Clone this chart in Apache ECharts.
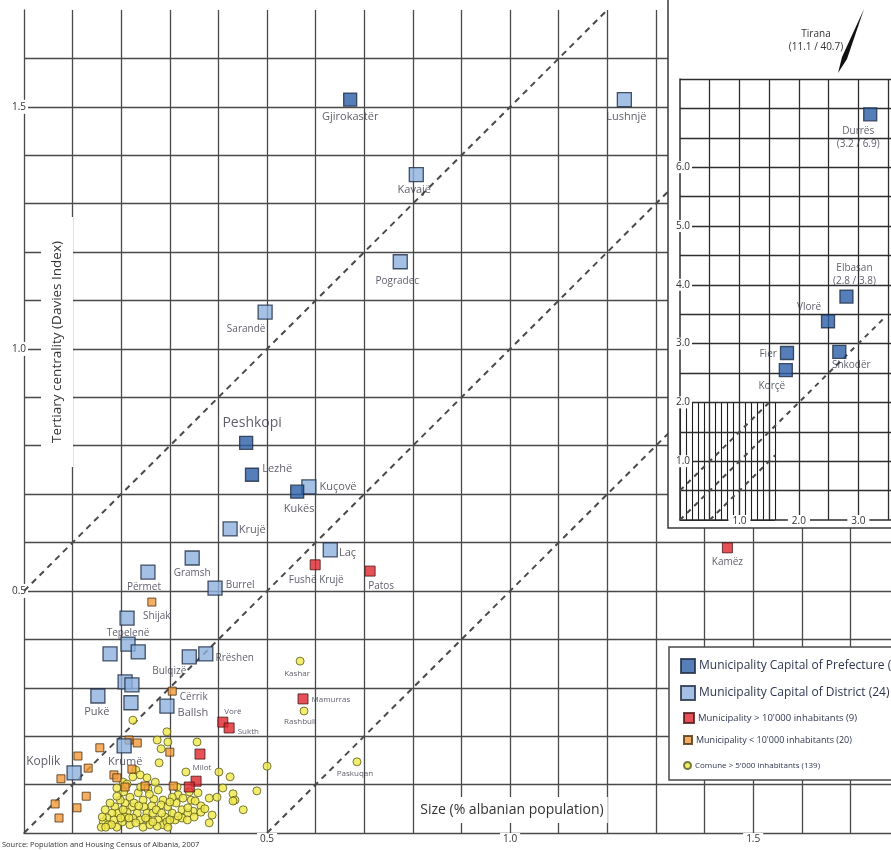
<!DOCTYPE html>
<html>
<head>
<meta charset="utf-8">
<script src="https://cdn.jsdelivr.net/npm/echarts@6/dist/echarts.min.js"></script>
<style>
html,body{margin:0;padding:0;background:#fff}
#chart{width:891px;height:850px}
</style>
</head>
<body>
<div id="chart"></div>
<script>
var FONT = '"Open Sans", "Noto Sans", sans-serif';

// capitals of prefecture shown in the main plot
var prefNames = ['Gjirokastër', 'Peshkopi', 'Lezhë', 'Kukës'];
var prefX = [0.671, 0.457, 0.469, 0.562];
var prefY = [1.515, 0.806, 0.740, 0.705];

// capitals of prefecture shown in the zoomed-out inset
var insetNames = ['Durrës', 'Elbasan', 'Vlorë', 'Fier', 'Shkodër', 'Korçë'];
var insetX = [3.2, 2.8, 2.49, 1.80, 2.68, 1.78];
var insetY = [6.9, 3.8, 3.38, 2.84, 2.86, 2.55];

// capitals of district (24)
var distNames = ['Lushnjë', 'Kavajë', 'Pogradec', 'Sarandë', 'Kuçovë', 'Krujë', 'Laç', 'Përmet',
    'Gramsh', 'Burrel', 'Tepelenë', '', '', '', 'Bulqizë', 'Rrëshen', '', '', 'Pukë', '', 'Ballsh',
    'Krumë', 'Koplik'];
var distX = [1.235, 0.807, 0.774, 0.496, 0.586, 0.424, 0.630, 0.255, 0.346, 0.393, 0.212, 0.177,
    0.214, 0.235, 0.340, 0.374, 0.208, 0.222, 0.152, 0.220, 0.294, 0.206, 0.103];
var distY = [1.515, 1.360, 1.180, 1.076, 0.715, 0.628, 0.585, 0.539, 0.568, 0.506, 0.444, 0.370,
    0.390, 0.374, 0.364, 0.370, 0.312, 0.306, 0.283, 0.269, 0.262, 0.180, 0.124];

// municipality > 10'000
var bigNames = ['Fushë Krujë', 'Patos', 'Kamëz', 'Mamurras', 'Vorë', 'Sukth', 'Milot', '', ''];
var bigX = [0.599, 0.712, 1.447, 0.574, 0.409, 0.422, 0.362, 0.354, 0.340];
var bigY = [0.554, 0.541, 0.589, 0.277, 0.229, 0.217, 0.163, 0.107, 0.095];

// municipality < 10'000
var smallNames = ['Shijak', 'Cërrik'];
var smallX = [0.263, 0.305, 0.111, 0.156, 0.132, 0.076, 0.128, 0.064, 0.109, 0.072, 0.216, 0.233,
    0.222, 0.185, 0.191, 0.208, 0.249, 0.300, 0.307];
var smallY = [0.477, 0.293, 0.159, 0.176, 0.134, 0.112, 0.076, 0.060, 0.052, 0.031, 0.192, 0.186,
    0.132, 0.120, 0.114, 0.095, 0.097, 0.167, 0.097];

// comune > 5'000
var comuneNames = ['Kashar', 'Rashbull', 'Paskuqan'];
var comuneNamedX = [0.568, 0.576, 0.685];
var comuneNamedY = [0.355, 0.252, 0.147];
var comunePts = [
    [0.224,0.233],[0.294,0.209],[0.274,0.192],[0.296,0.188],[0.282,0.174],[0.356,0.188],[0.278,0.145],
    [0.333,0.126],[0.401,0.126],[0.424,0.116],[0.500,0.138],[0.230,0.130],[0.239,0.120],[0.253,0.114],
    [0.224,0.116],[0.204,0.105],[0.409,0.093],[0.430,0.081],[0.434,0.068],[0.451,0.048],[0.479,0.087],
    [0.381,0.072],[0.397,0.074],[0.364,0.056],[0.348,0.045],[0.387,0.037],[0.381,0.021],[0.317,0.079],
    [0.327,0.072],[0.344,0.068],[0.325,0.048],[0.337,0.041],[0.311,0.027],[0.325,0.031],[0.276,0.089],
    [0.286,0.068],[0.282,0.058],[0.267,0.070],[0.263,0.056],[0.296,0.054],[0.305,0.041],[0.290,0.033],
    [0.276,0.027],[0.286,0.017],[0.294,0.023],[0.274,0.014],[0.255,0.091],[0.245,0.068],[0.247,0.054],
    [0.253,0.041],[0.255,0.027],[0.239,0.027],[0.233,0.041],[0.222,0.054],[0.224,0.031],[0.218,0.017],
    [0.212,0.043],[0.208,0.062],[0.198,0.068],[0.191,0.076],[0.187,0.054],[0.193,0.041],[0.181,0.041],
    [0.171,0.031],[0.163,0.023],[0.173,0.017],[0.185,0.027],[0.202,0.023],[0.191,0.012],[0.177,0.062],
    [0.167,0.048],[0.161,0.033],[0.235,0.083],[0.218,0.074],[0.265,0.041],[0.313,0.062],[0.305,0.074],
    [0.191,0.093],[0.226,0.062],[0.296,0.012],[0.364,0.043],[0.337,0.052],[0.352,0.066],[0.430,0.066],
    [0.208,0.033],[0.230,0.021],[0.245,0.012],[0.259,0.017],[0.265,0.023],[0.199,0.031],[0.180,0.017],
    [0.159,0.012],[0.168,0.012],[0.204,0.048],[0.216,0.031],[0.236,0.056],[0.250,0.031],[0.272,0.048],
    [0.283,0.041],[0.300,0.027],[0.317,0.035],[0.336,0.027],[0.350,0.033],[0.300,0.064],[0.258,0.080],
    [0.240,0.095],[0.205,0.085],[0.315,0.095],[0.340,0.085],[0.270,0.105],[0.212,0.101],[0.372,0.050],
    [0.358,0.083]
];

// reference diagonals y = x + c
var diagOffsets = [0.5, 0, -0.5];
var insetDiagEnds = [1.5, 3.45, 1.6];

var mainTicks = [0.5, 1.0, 1.5];
var insetXTicks = [1, 2, 3];
var insetYTicks = [1, 2, 3, 4, 5, 6];

var seriesNames = [
    'Municipality Capital of Prefecture (12)',
    'Municipality Capital of District (24)',
    "Municipality > 10'000 inhabitants (9)",
    "Municipality < 10'000 inhabitants (20)",
    "Comune > 5'000 inhabitants (139)"
];

// label placement: position, dx, dy, font size, show coordinates
var labelCfg = {
    'Gjirokastër': ['bottom', 0, 0, 11], 'Lushnjë': ['bottom', 2, 0, 11],
    'Kavajë': ['bottom', -2, -2, 11], 'Pogradec': ['bottom', -3, 2, 10],
    'Sarandë': ['bottom', -19, 0, 10], 'Peshkopi': ['top', 6, -1, 14],
    'Lezhë': ['right', 0, -6, 11], 'Kukës': ['bottom', 2, 0, 11],
    'Kuçovë': ['right', 0, 0, 11], 'Krujë': ['right', -2, 1, 11],
    'Laç': ['right', -2, 3, 11], 'Fushë Krujë': ['bottom', 1, 0, 10],
    'Patos': ['bottom', 11, 0, 10], 'Kamëz': ['bottom', 0, -1, 10],
    'Përmet': ['bottom', -4, -2, 10], 'Gramsh': ['bottom', 0, -2, 10],
    'Burrel': ['right', 0, -3, 10], 'Shijak': ['bottom', 5, 0, 10],
    'Tepelenë': ['bottom', 1, -2, 10], 'Bulqizë': ['bottom', -20, -3, 10],
    'Rrëshen': ['right', -1, 4, 10], 'Cërrik': ['right', 0, 6, 10],
    'Pukë': ['bottom', -1, -2, 11], 'Ballsh': ['right', 0, 7, 11],
    'Vorë': ['top', 10, 4, 8], 'Sukth': ['right', 0, 4, 8],
    'Krumë': ['bottom', 1, -2, 11], 'Koplik': ['left', -3, -11, 12],
    'Milot': ['bottom', 2, 0, 8], 'Kashar': ['bottom', -3, 0, 8],
    'Mamurras': ['right', 0, 1, 8], 'Rashbull': ['bottom', -4, -2, 8],
    'Paskuqan': ['bottom', -2, -1, 8],
    'Durrës': ['bottom', -12, 0, 10, true], 'Elbasan': ['top', 8, 1, 10, true],
    'Vlorë': ['top', -19, 3, 10], 'Fier': ['left', 0, 1, 10],
    'Shkodër': ['bottom', 12, -3, 10], 'Korçë': ['bottom', -14, -1, 10]
};

function buildData(names, xs, ys) {
    return xs.map(function (x, i) {
        var name = names[i] || '';
        var item = {name: name, value: [x, ys[i]]};
        var c = labelCfg[name];
        if (c) {
            item.label = {
                show: true, position: c[0], offset: [c[1], c[2]], fontSize: c[3], distance: 3,
                lineHeight: c[3] + 3,
                formatter: c[4] ? name + '\n(' + x.toFixed(1) + ' / ' + ys[i].toFixed(1) + ')' : name
            };
        }
        return item;
    });
}

function diagLine(c, x0, x1) {
    return [[x0, x0 + c], [x1, x1 + c]];
}

var baseLabel = {show: false, color: '#363646', fontFamily: FONT};
var splitMain = {show: true, lineStyle: {color: '#4a4a4a', width: 1.3}, showMinLine: false};
var splitInset = {show: true, lineStyle: {color: '#2e2e2e', width: 1.3}, showMinLine: false};
var tickLabel = {fontSize: 10, color: '#333', fontFamily: FONT, backgroundColor: '#fff',
    formatter: function (v) { return Number(v).toFixed(1); }};

var sqBorder = '#1d2b42';
var series = [];

// reference diagonals, main plot
diagOffsets.forEach(function (c) {
    var x0 = Math.max(0, -c), x1 = Math.min(1.8, 1.7 - c);
    series.push({
        type: 'line', xAxisIndex: 0, yAxisIndex: 0, data: diagLine(c, x0, x1), symbol: 'none',
        silent: true, z: 1, lineStyle: {color: '#4a4a4a', width: 2, type: [6, 5]}
    });
});

series.push({
    name: seriesNames[4], type: 'scatter', xAxisIndex: 0, yAxisIndex: 0, z: 2,
    symbol: 'circle', symbolSize: 8, label: baseLabel,
    itemStyle: {color: '#f0e94a', borderColor: '#5a5a1c', borderWidth: 1},
    data: buildData(comuneNames, comuneNamedX, comuneNamedY).concat(comunePts.map(function (p) {
        return {name: '', value: p};
    }))
});
series.push({
    name: seriesNames[3], type: 'scatter', xAxisIndex: 0, yAxisIndex: 0, z: 3,
    symbol: 'rect', symbolSize: 8, label: baseLabel,
    itemStyle: {color: '#f39a3a', borderColor: '#4a3010', borderWidth: 1},
    data: buildData(smallNames, smallX, smallY)
});
series.push({
    name: seriesNames[2], type: 'scatter', xAxisIndex: 0, yAxisIndex: 0, z: 4,
    symbol: 'rect', symbolSize: 10, label: baseLabel,
    itemStyle: {color: '#e0262d', borderColor: '#4a1515', borderWidth: 1},
    data: buildData(bigNames, bigX, bigY)
});
series.push({
    name: seriesNames[1], type: 'scatter', xAxisIndex: 0, yAxisIndex: 0, z: 5,
    symbol: 'rect', symbolSize: 14, label: baseLabel,
    itemStyle: {color: '#8db0de', borderColor: sqBorder, borderWidth: 1.3},
    data: buildData(distNames, distX, distY)
});
series.push({
    name: seriesNames[0], type: 'scatter', xAxisIndex: 0, yAxisIndex: 0, z: 6,
    symbol: 'rect', symbolSize: 13, label: baseLabel,
    itemStyle: {color: '#2c5ea8', borderColor: sqBorder, borderWidth: 1.3},
    data: buildData(prefNames, prefX, prefY)
});

// inset diagonals and points
diagOffsets.forEach(function (c, i) {
    series.push({
        type: 'line', xAxisIndex: 1, yAxisIndex: 1, data: diagLine(c, Math.max(0, -c), insetDiagEnds[i]),
        symbol: 'none', silent: true, z: 13, lineStyle: {color: '#4a4a4a', width: 2, type: [5, 5]}
    });
});
series.push({
    name: seriesNames[0], type: 'scatter', xAxisIndex: 1, yAxisIndex: 1, z: 14,
    symbol: 'rect', symbolSize: 13, label: baseLabel,
    itemStyle: {color: '#2c5ea8', borderColor: sqBorder, borderWidth: 1.3},
    data: buildData(insetNames, insetX, insetY)
});

function legendItem(i, left, top, size, icon, fontSize) {
    return {
        left: left, top: top, padding: 0, z: 21, selectedMode: false,
        itemWidth: size, itemHeight: size,
        data: [{name: seriesNames[i], icon: icon}],
        textStyle: {fontSize: fontSize, color: '#2f3550', fontFamily: FONT, padding: [0, 0, 0, -1]}
    };
}

var option = {
    backgroundColor: '#fff',
    animation: false,
    grid: [
        {left: 24, top: 10, width: 875, height: 823, outerBoundsMode: 'none'},
        {left: 680, top: 79, width: 214, height: 441, outerBoundsMode: 'none'},
        {left: 680, top: 402.4, width: 95, height: 117.6, outerBoundsMode: 'none'}
    ],
    xAxis: [
        {gridIndex: 0, type: 'value', min: 0, max: 1.8, interval: 0.1, z: 0,
            axisLine: {show: true, lineStyle: {color: '#4a4a4a', width: 1.3}},
            axisTick: {show: false}, splitLine: splitMain,
            axisLabel: Object.assign({customValues: mainTicks, margin: 6, verticalAlign: 'middle',
                padding: [1, 3]}, tickLabel)},
        {gridIndex: 1, type: 'value', min: 0, max: 3.6, interval: 0.5, z: 12.5,
            axisLine: {show: true, lineStyle: {color: '#2e2e2e', width: 1.5}},
            axisTick: {show: false}, splitLine: splitInset,
            axisLabel: Object.assign({customValues: insetXTicks, margin: 1, verticalAlign: 'middle',
                padding: [1, 4]}, tickLabel)},
        {gridIndex: 2, type: 'value', min: 0, max: 1.6, interval: 0.1, z: 12,
            axisLine: {show: false}, axisTick: {show: false}, axisLabel: {show: false},
            splitLine: {show: true, lineStyle: {color: '#1e1e1e', width: 1.1}}}
    ],
    yAxis: [
        {gridIndex: 0, type: 'value', min: 0, max: 1.7, interval: 0.1, z: 1,
            axisLine: {show: true, lineStyle: {color: '#4a4a4a', width: 1.3}},
            axisTick: {show: false},
            splitLine: {show: true, lineStyle: {color: '#4a4a4a', width: 1.3}, showMinLine: false, showMaxLine: false},
            axisLabel: Object.assign({customValues: mainTicks, margin: 5, align: 'center',
                padding: [2, 2]}, tickLabel)},
        {gridIndex: 1, type: 'value', min: 0, max: 7.5, interval: 0.5, z: 12.5,
            axisLine: {show: true, lineStyle: {color: '#2e2e2e', width: 1.5}},
            axisTick: {show: false}, splitLine: splitInset,
            axisLabel: Object.assign({customValues: insetYTicks, margin: -3, align: 'center',
                padding: [1, 2]}, tickLabel)},
        {gridIndex: 2, type: 'value', min: 0, max: 2, interval: 0.5, z: 12,
            axisLine: {show: false}, axisTick: {show: false}, axisLabel: {show: false},
            splitLine: {show: true, lineStyle: {color: '#1e1e1e', width: 1.1}}}
    ],
    legend: [
        legendItem(0, 680, 658, 14, 'rect', 12),
        legendItem(1, 680, 685, 14, 'rect', 12),
        legendItem(2, 683, 712, 10, 'rect', 9.5),
        legendItem(3, 683, 735, 8, 'rect', 9),
        legendItem(4, 683, 761, 7, 'circle', 8)
    ],
    graphic: {elements: [
        // white panel holding the inset
        {type: 'rect', z: 10, silent: true, shape: {x: 668, y: -5, width: 240, height: 533},
            style: {fill: '#fff', stroke: '#3a3a3a', lineWidth: 1.5}},
        // legend box
        {type: 'rect', z: 20, silent: true, shape: {x: 669, y: 647, width: 240, height: 133},
            style: {fill: '#fff', stroke: '#4a4a4a', lineWidth: 1.5}},
        {type: 'text', z: 7, x: 57, y: 342, rotation: Math.PI / 2, silent: true,
            style: {text: 'Tertiary centrality (Davies Index)', fontSize: 13.5, fontFamily: FONT, fill: '#333',
                align: 'center', verticalAlign: 'middle', backgroundColor: '#fff', padding: [9, 24]}},
        {type: 'text', z: 7, x: 512, y: 810, silent: true,
            style: {text: 'Size (% albanian population)', fontSize: 14, fontFamily: FONT, fill: '#333',
                align: 'center', verticalAlign: 'middle', backgroundColor: '#fff', padding: [6, 4]}},
        {type: 'text', z: 15, x: 816, y: 28, silent: true,
            style: {text: 'Tirana\n(11.1 / 40.7)', fontSize: 10, lineHeight: 13, fontFamily: FONT,
                fill: '#333', align: 'center', verticalAlign: 'top'}},
        {type: 'polygon', z: 15, silent: true,
            shape: {points: [[838, 73], [842, 57], [864, 9], [847, 59]]}, style: {fill: '#111'}},
        {type: 'text', z: 7, x: 2, y: 845, silent: true,
            style: {text: 'Source: Population and Housing Census of Albania, 2007', fontSize: 7.5,
                fontFamily: FONT, fill: '#333', align: 'left', verticalAlign: 'middle'}}
    ]},
    series: series
};

var chart = echarts.init(document.getElementById('chart'));
chart.setOption(option);
</script>
</body>
</html>
